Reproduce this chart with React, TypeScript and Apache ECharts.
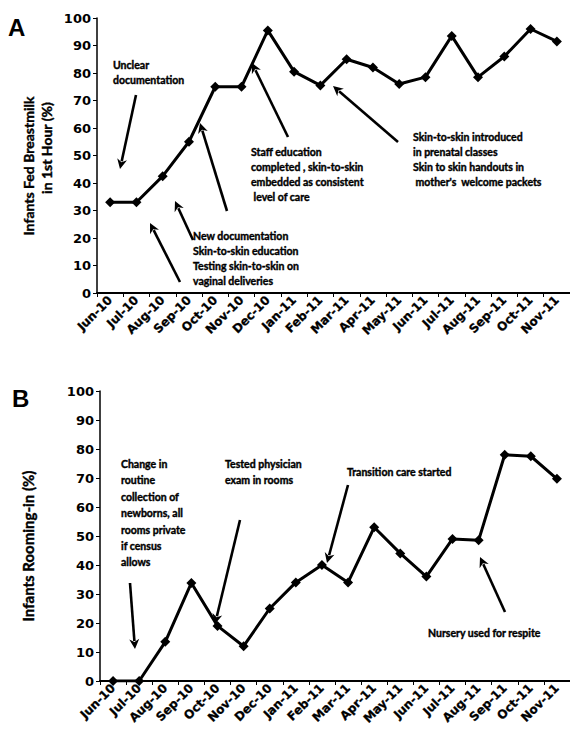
import React, { useEffect, useRef } from "react";
import * as echarts from "echarts";

const months = [
  "Jun-10", "Jul-10", "Aug-10", "Sep-10", "Oct-10", "Nov-10", "Dec-10", "Jan-11", "Feb-11",
  "Mar-11", "Apr-11", "May-11", "Jun-11", "Jul-11", "Aug-11", "Sep-11", "Oct-11", "Nov-11",
];
const breastmilkPct = [33, 33, 42.5, 55, 75, 75, 95.5, 80.5, 75.5, 85, 82, 76, 78.5, 93.5, 78.5, 86, 96, 91.5];
const roomingPct = [0, 0, 13.5, 33.8, 19, 12, 25, 34, 40, 34, 53, 44, 36, 49, 48.5, 78, 77.5, 69.7];

const panelLetters = ["A", "B"];
const titleA = ["Infants Fed Breastmilk", "in 1st Hour (%)"];
const titleB = "Infants Rooming-in (%)";

const notesA = [
  { lines: ["Unclear", "documentation"], x: 113, y: 65 },
  { lines: ["Staff education", "completed , skin-to-skin", "embedded as consistent", " level of care"], x: 251, y: 152 },
  { lines: ["Skin-to-skin introduced", "in prenatal classes", "Skin to skin handouts in", " mother's  welcome packets"], x: 413, y: 137 },
  { lines: ["New documentation", "Skin-to-skin education", "Testing skin-to-skin on", "vaginal deliveries"], x: 193, y: 236 },
];
const notesB = [
  { lines: ["Change in", "routine", "collection of", "newborns, all", "rooms private", "if census", "allows"], x: 121, y: 464 },
  { lines: ["Tested physician", "exam in rooms"], x: 225, y: 464 },
  { lines: ["Transition care started"], x: 347, y: 472 },
  { lines: ["Nursery used for respite"], x: 428, y: 633 },
];
// [tailX, tailY, headX, headY]
const arrows = [
  [136, 95, 120, 169],
  [288, 137, 252, 63],
  [398, 142, 333, 86],
  [180, 282, 150, 223],
  [193, 240, 175, 201],
  [227, 211, 200, 123],
  [130, 583, 135, 649],
  [240, 520, 215, 624],
  [348, 485, 327, 563],
  [505, 612, 480, 557],
];

const FONT = "Lato";

function arrowEls(a: number[]) {
  const [x1, y1, x2, y2] = a;
  const dx = x2 - x1, dy = y2 - y1;
  const len = Math.hypot(dx, dy);
  const ux = dx / len, uy = dy / len;
  const hl = 10, hw = 5;
  const bx = x2 - ux * hl, by = y2 - uy * hl;
  return [
    { type: "line", shape: { x1, y1, x2: bx + ux * 2, y2: by + uy * 2 }, style: { stroke: "#000", lineWidth: 2.6 } },
    {
      type: "polygon",
      shape: { points: [[x2, y2], [bx - uy * hw, by + ux * hw], [bx + ux * 3, by + uy * 3], [bx + uy * hw, by - ux * hw]] },
      style: { fill: "#000" },
    },
  ];
}

function noteEls(n: { lines: string[]; x: number; y: number }, lh: number) {
  return n.lines.map((t, i) => ({
    type: "text",
    style: {
      text: t, x: n.x, y: n.y + i * lh, font: `bold 10.5px ${FONT}`, fill: "#000",
      stroke: "#000", lineWidth: 0.4,
      textAlign: "left", textVerticalAlign: "middle",
    },
  }));
}

export default function App() {
  const ref = useRef<HTMLDivElement>(null);
  useEffect(() => {
    if (!ref.current) return;
    const chart = echarts.init(ref.current, null, { renderer: "svg" });
    const xAxisBase = (gi: number) => ({
      type: "category",
      gridIndex: gi,
      data: months,
      boundaryGap: true,
      axisLine: { lineStyle: { color: "#000", width: 2 } },
      axisTick: { show: true, length: 4, lineStyle: { color: "#000", width: 1 } },
      axisLabel: {
        rotate: 45, interval: 0, margin: 5, color: "#000",
        fontFamily: "DejaVu Sans", fontWeight: "bold", fontSize: 12,
        textBorderColor: "#000", textBorderWidth: 0.3,
      },
    });
    const yAxisBase = (gi: number) => ({
      type: "value",
      gridIndex: gi,
      min: 0, max: 100, interval: 10,
      splitLine: { show: false },
      axisLine: { show: true, lineStyle: { color: "#000", width: 1.5 } },
      axisTick: { show: true, length: 4, lineStyle: { color: "#000", width: 1 } },
      axisLabel: { margin: 6, color: "#000", fontFamily: "DejaVu Sans", fontWeight: "bold", fontSize: 13 },
    });
    const seriesBase = {
      type: "line",
      symbol: "diamond",
      symbolSize: 10,
      lineStyle: { color: "#000", width: 3 },
      itemStyle: { color: "#000" },
    };
    const titleStyle = (text: string, size: number) => ({
      text, x: 0, y: 0, font: `bold ${size}px ${FONT}`, fill: "#000", stroke: "#000", lineWidth: 0.4,
      textAlign: "center", textVerticalAlign: "middle",
    });
    const graphics: any[] = [
      { type: "text", style: { text: panelLetters[0], x: 8, y: 27, font: "bold 24px 'Liberation Sans'", fill: "#000", textVerticalAlign: "middle" } },
      { type: "text", style: { text: panelLetters[1], x: 12, y: 398, font: "bold 24px 'Liberation Sans'", fill: "#000", textVerticalAlign: "middle" } },
      { type: "text", x: 28, y: 166, rotation: Math.PI / 2, style: titleStyle(titleA[0], 14) },
      { type: "text", x: 46, y: 148, rotation: Math.PI / 2, style: titleStyle(titleA[1], 14) },
      { type: "text", x: 28, y: 546, rotation: Math.PI / 2, style: titleStyle(titleB, 15) },
    ];
    notesA.forEach((n) => graphics.push(...noteEls(n, 15)));
    notesB.forEach((n) => graphics.push(...noteEls(n, 16.4)));
    arrows.forEach((a) => graphics.push(...arrowEls(a)));

    chart.setOption({
      animation: false,
      backgroundColor: "#fff",
      grid: [
        { left: 97, right: 0, top: 18, height: 275 },
        { left: 100, right: 0, top: 391, height: 290 },
      ],
      xAxis: [xAxisBase(0), xAxisBase(1)],
      yAxis: [yAxisBase(0), yAxisBase(1)],
      series: [
        { ...seriesBase, name: "Breastmilk", xAxisIndex: 0, yAxisIndex: 0, data: breastmilkPct },
        { ...seriesBase, name: "Rooming-in", xAxisIndex: 1, yAxisIndex: 1, data: roomingPct },
      ],
      graphic: graphics,
    });
    return () => chart.dispose();
  }, []);
  return <div ref={ref} style={{ position: "absolute", left: 0, top: 0, width: 570, height: 740 }} />;
}
